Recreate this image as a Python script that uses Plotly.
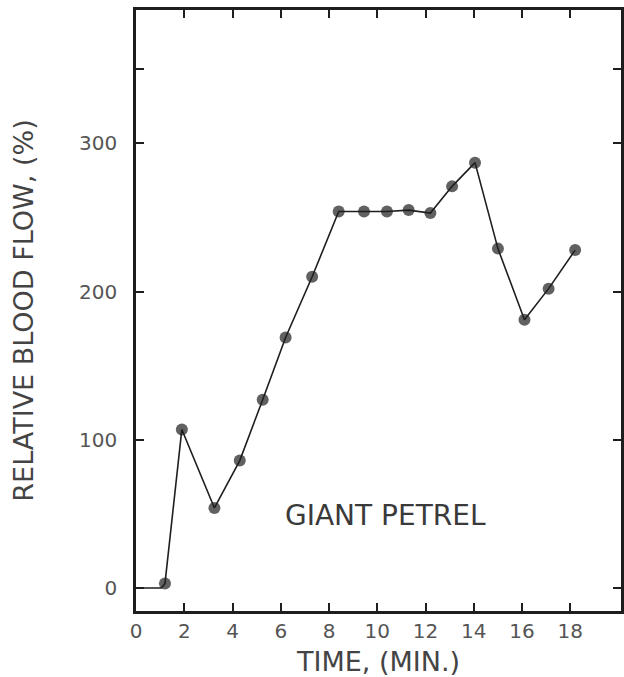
import plotly.graph_objects as go

# Data (time in minutes, relative blood flow in %)
time_min = [0.0, 1.05, 1.2, 1.9, 3.25, 4.3, 5.25, 6.2, 7.3, 8.4, 9.45, 10.4, 11.3, 12.2, 13.1, 14.05, 15.0, 16.1, 17.1, 18.2]
blood_flow = [0, 0, 3, 107, 54, 86, 127, 169, 210, 254, 254, 254, 255, 253, 271, 287, 229, 181, 202, 228]
marker_sizes = [0, 0] + [12] * (len(time_min) - 2)

x_ticks = [0, 2, 4, 6, 8, 10, 12, 14, 16, 18]
y_ticks = [0, 100, 200, 300, 350]
y_ticktext = ["0", "100", "200", "300", ""]

ink = "#1e1e1e"
font_family = "DejaVu Sans, Liberation Sans, sans-serif"

fig = go.Figure()
fig.add_trace(go.Scatter(
    x=time_min, y=blood_flow, mode="lines+markers",
    line=dict(color=ink, width=1.6),
    marker=dict(color=ink, size=marker_sizes, line=dict(width=0)),
    showlegend=False, hoverinfo="skip",
))

fig.add_annotation(x=10.36, y=49, text="GIANT PETREL", showarrow=False,
                   font=dict(family=font_family, size=28, color="#3a3a3a"))

fig.update_layout(
    width=624, height=677,
    margin=dict(l=136, r=3, t=10, b=66),
    paper_bgcolor="white", plot_bgcolor="white",
    font=dict(family=font_family, color="#555555"),
    xaxis=dict(
        range=[0, 20.1], tickvals=x_ticks, ticktext=[str(v) for v in x_ticks],
        ticks="inside", ticklen=8, tickwidth=2, tickcolor=ink,
        showline=True, linewidth=2.5, linecolor=ink, mirror="ticks",
        showgrid=False, zeroline=False,
        tickfont=dict(size=20, color="#555555"),
        title=dict(text="TIME, (MIN.)", font=dict(size=27, color="#444444"), standoff=12),
        automargin=False,
    ),
    yaxis=dict(
        range=[-15.5, 390], tickvals=y_ticks, ticktext=y_ticktext,
        ticks="inside", ticklen=8, tickwidth=2, tickcolor=ink,
        showline=True, linewidth=2.5, linecolor=ink, mirror="ticks",
        showgrid=False, zeroline=False,
        tickfont=dict(size=20, color="#555555"),
        ticklabelstandoff=12,
        title=dict(text="RELATIVE BLOOD FLOW, (%)", font=dict(size=27, color="#444444"), standoff=38),
        automargin=False,
    ),
)

fig.write_html("out.html", config={"displayModeBar": False},
               post_script="document.body.style.margin='0';")
